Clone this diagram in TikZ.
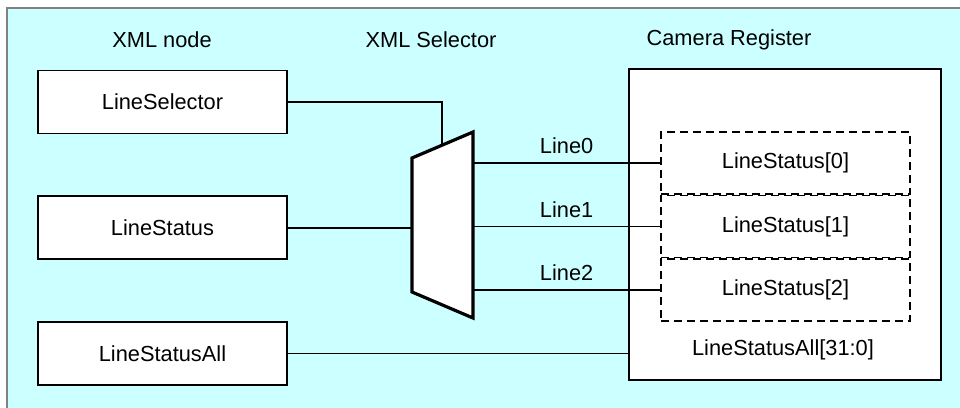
\documentclass[tikz,border=0pt]{standalone}
\usepackage{fontspec}
\setmainfont{Liberation Sans}
\usetikzlibrary{positioning, calc}
\definecolor{bgcyan}{RGB}{204,255,255}
\definecolor{bgframe}{RGB}{130,130,130}
\tikzset{
	lbl/.style={font=\fontsize{21.8}{26}\selectfont, inner sep=0pt}
}
\tikzset{
	xmlbox/.style={lbl, draw, line width=1.8pt, fill=white, minimum width=249pt, minimum height=63pt},
	regbox/.style={lbl, draw, line width=1.4pt, dash pattern=on 8pt off 5pt, minimum width=249pt, minimum height=62pt},
	wire/.style={line width=1.6pt},
	muxshape/.style={draw, fill=white, line width=3.2pt, line join=miter}
}

\begin{document}
\begin{tikzpicture}[x=1pt, y=-1pt]
      \useasboundingbox (0,0) rectangle (960,407);
      \draw[fill=bgcyan, draw=bgframe, line width=2pt] (7,8) rectangle (964,411);
      \node[lbl] (hdrnode) at (162,40) {XML node};
      \node[lbl] (hdrsel) at (431,40) {XML Selector};
      \node[lbl] (hdrcam) at (729,40) {Camera Register};
      \node[xmlbox] (sel) at (162.5,102) {LineSelector};
      \node[xmlbox, below=61pt of sel] (status) {LineStatus};
      \node[xmlbox, below=61pt of status] (statusall) {LineStatusAll};
      \node[draw, line width=1.8pt, fill=white, minimum width=312pt, minimum height=311pt] (cam) at (785,224.5) {};
      \node[regbox] (reg0) at (785.5,163) {LineStatus[0]};
      \node[regbox, below=0pt of reg0] (reg1) {LineStatus[1]};
      \node[regbox, below=0pt of reg1] (reg2) {LineStatus[2]};
      \node[lbl] (regall) at (783,350) {LineStatusAll[31:0]};
      \draw[muxshape] (412,158) coordinate (muxtl) -- (473,132) coordinate (muxtr)
        -- (473,318) coordinate (muxbr) -- (412,292) coordinate (muxbl) -- cycle;
      \coordinate (muxsel) at ($(muxtl)!0.492!(muxtr)$);
      \draw[wire] (sel.east) -- (sel.east -| muxsel) -- (muxsel);
      \draw[wire] (status.east) -- (status.east -| muxtl);
      \foreach \i in {0,1,2}
        \draw[wire] (reg\i.west -| muxtr) -- node[lbl, above=8pt] {Line\i} (reg\i.west);
      \draw[wire] (statusall.east) -- (statusall.east -| cam.west);
    \end{tikzpicture}
\end{document}
